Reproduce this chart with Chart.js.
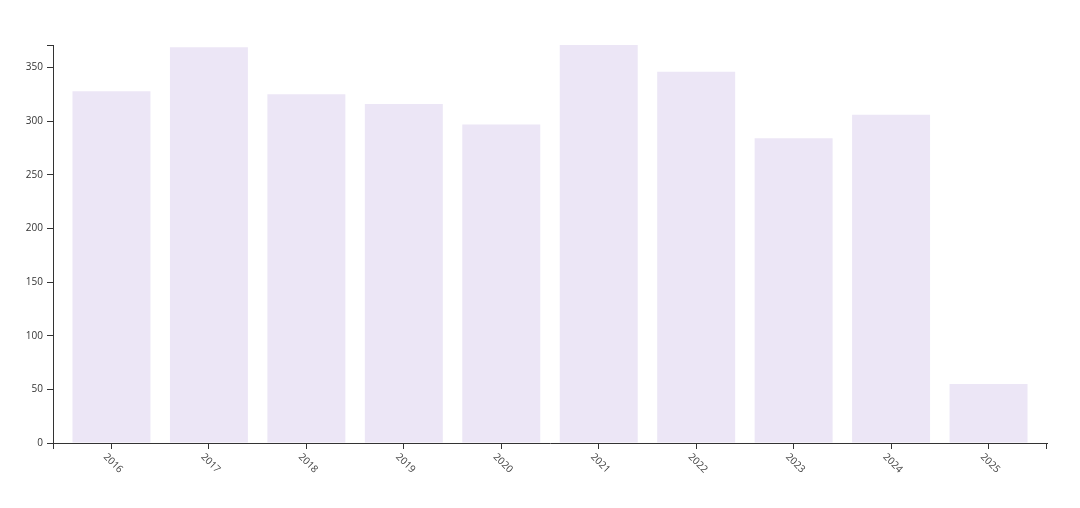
<!DOCTYPE html>
<html>
<head>
<meta charset="utf-8">
<script src="https://cdn.jsdelivr.net/npm/chart.js@4"></script>
<style>
  html, body { margin: 0; padding: 0; background: #fff; }
  #wrap { width: 1080px; height: 508px; }
</style>
</head>
<body>
<div id="wrap"><canvas id="bar-chart" width="1080" height="508"></canvas></div>
<script>
// data
var years = ['2016', '2017', '2018', '2019', '2020', '2021', '2022', '2023', '2024', '2025'];
var counts = [328, 369, 325, 316, 297, 371, 346, 284, 306, 55];
var yTicks = [0, 50, 100, 150, 200, 250, 300, 350];

var axisColor = '#333';
var labelFont = '10px "Open Sans", sans-serif';
var bandPad = 0.2; // d3 band padding, inner and outer

// d3-style outer ticks and rotated x labels
var d3Axis = {
    id: 'd3Axis',
    afterDraw: function(chart) {
        var ctx = chart.ctx;
        var area = chart.chartArea;
        var x = chart.scales.x;
        ctx.save();
        ctx.strokeStyle = axisColor;
        ctx.lineWidth = 1;
        ctx.beginPath();
        // top outer tick of y axis
        ctx.moveTo(Math.round(area.left) - 6, Math.round(area.top) + 0.5);
        ctx.lineTo(Math.round(area.left) + 0.5, Math.round(area.top) + 0.5);
        // outer ticks at both ends of x axis
        ctx.moveTo(Math.round(area.left) + 0.5, Math.round(area.bottom));
        ctx.lineTo(Math.round(area.left) + 0.5, Math.round(area.bottom) + 6);
        ctx.moveTo(Math.round(area.right) - 0.5, Math.round(area.bottom));
        ctx.lineTo(Math.round(area.right) - 0.5, Math.round(area.bottom) + 6);
        ctx.stroke();

        ctx.fillStyle = '#444';
        ctx.font = labelFont;
        ctx.textAlign = 'left';
        ctx.textBaseline = 'alphabetic';
        years.forEach(function(label) {
            var px = x.getPixelForValue(+label);
            ctx.save();
            ctx.translate(px, area.bottom);
            ctx.rotate(Math.PI / 4);
            ctx.fillText(label, 4, 16);
            ctx.restore();
        });
        ctx.restore();
    }
};

new Chart(document.getElementById('bar-chart'), {
    type: 'bar',
    data: {
        labels: years,
        datasets: [{
            label: 'Count',
            data: counts,
            backgroundColor: '#ece6f6',
            borderWidth: 0,
            categoryPercentage: 1 - bandPad,
            barPercentage: 1
        }]
    },
    options: {
        responsive: false,
        animation: false,
        layout: { padding: { top: 45, right: 33, left: 0, bottom: 0 } },
        plugins: {
            legend: { display: false },
            tooltip: { enabled: false }
        },
        scales: {
            x: {
                type: 'linear',
                offset: false,
                min: +years[0] - 0.5 - bandPad / 2,
                max: +years[years.length - 1] + 0.5 + bandPad / 2,
                afterFit: function(scale) { scale.height = 65; },
                afterBuildTicks: function(scale) {
                    scale.ticks = years.map(function(y) { return { value: +y }; });
                },
                grid: {
                    offset: false,
                    drawOnChartArea: false,
                    drawTicks: true,
                    tickLength: 6,
                    color: axisColor
                },
                border: { display: true, color: axisColor, width: 1 },
                ticks: { display: false }
            },
            y: {
                min: 0,
                max: Math.max.apply(null, counts),
                afterFit: function(scale) { scale.width = 53; },
                afterBuildTicks: function(scale) {
                    scale.ticks = yTicks.map(function(v) { return { value: v }; });
                },
                grid: {
                    drawOnChartArea: false,
                    drawTicks: true,
                    tickLength: 6,
                    color: axisColor
                },
                border: { display: true, color: axisColor, width: 1 },
                ticks: {
                    color: '#333',
                    padding: 4,
                    font: { family: '"Open Sans", sans-serif', size: 10 }
                }
            }
        }
    },
    plugins: [d3Axis]
});
</script>
</body>
</html>
